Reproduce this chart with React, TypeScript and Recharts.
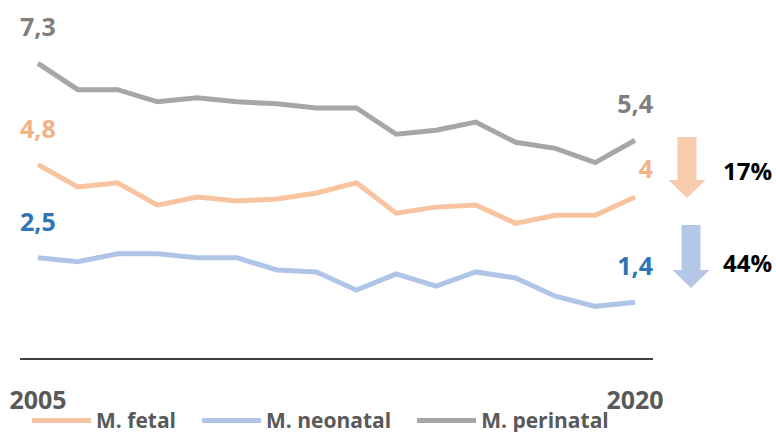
import React from 'react';
import { LineChart, Line, XAxis, YAxis, Legend, LabelList } from 'recharts';

const years = [2005, 2006, 2007, 2008, 2009, 2010, 2011, 2012, 2013, 2014, 2015, 2016, 2017, 2018, 2019, 2020];
const fetal = [4.8, 4.25, 4.35, 3.8, 4.0, 3.9, 3.95, 4.1, 4.35, 3.6, 3.75, 3.8, 3.35, 3.55, 3.55, 4.0];
const neonatal = [2.5, 2.4, 2.6, 2.6, 2.5, 2.5, 2.2, 2.15, 1.7, 2.1, 1.8, 2.15, 2.0, 1.55, 1.3, 1.4];
const perinatal = [7.3, 6.65, 6.65, 6.35, 6.45, 6.35, 6.3, 6.2, 6.2, 5.55, 5.65, 5.85, 5.35, 5.2, 4.85, 5.4];
const yearTicks = [2005, 2020];
const changes = [{ text: '17%', color: '#F8CBAD' }, { text: '44%', color: '#B4C7E7' }];

const data = years.map((year, i) => ({
  year,
  fetal: fetal[i],
  neonatal: neonatal[i],
  perinatal: perinatal[i],
}));

const FONT = '"Open Sans", sans-serif';
const LAST = years.length - 1;

const fmt = (v: number) => String(v).replace('.', ',');

// Value labels only at the first and last year of each series
const endLabels = (color: string, lastLift = 27) => (props: any) => {
  const { x, y, value, index } = props;
  if (index !== 0 && index !== LAST) return null;
  const first = index === 0;
  return (
    <text
      x={first ? x - 18 : x + 18}
      y={y - (first ? 27 : lastLift)}
      textAnchor={first ? 'start' : 'end'}
      fill={color}
      fontFamily={FONT}
      fontWeight={700}
      fontSize={25}
    >
      {fmt(value)}
    </text>
  );
};

const YearTick = (props: any) => {
  const { x, y, payload } = props;
  return (
    <text x={x} y={y + 50} textAnchor="middle" fill="#595959" fontFamily={FONT} fontWeight={700} fontSize={25}>
      {payload.value}
    </text>
  );
};

const LegendContent = (props: any) => {
  const { payload } = props;
  return (
    <div style={{ display: 'flex', alignItems: 'center', height: 30, fontFamily: FONT }}>
      {payload.map((p: any, i: number) => (
        <div key={i} style={{ display: 'flex', alignItems: 'center', marginRight: 26 }}>
          <div style={{ width: 59, height: 5, background: p.color, marginRight: 5 }} />
          <span style={{ color: '#595959', fontWeight: 700, fontSize: 21, lineHeight: '30px', whiteSpace: 'nowrap' }}>{p.value}</span>
        </div>
      ))}
    </div>
  );
};

const DownArrow = ({ x, top, headTop, tip, color }: any) => {
  const sx1 = x - 9.5;
  const sx2 = x + 9.5;
  const hx1 = x - 18.5;
  const hx2 = x + 18.5;
  const d = `M${sx1},${top} L${sx2},${top} L${sx2},${headTop} L${hx2},${headTop} L${x},${tip} L${hx1},${headTop} L${sx1},${headTop} Z`;
  return <path d={d} fill={color} />;
};

export default function App() {
  return (
    <div style={{ position: 'absolute', left: 0, top: 0, width: 776, height: 432, background: '#fff', overflow: 'hidden' }}>
      <LineChart width={776} height={432} data={data} margin={{ top: 35, right: 123, bottom: 13, left: 20 }}>
        <XAxis
          dataKey="year"
          type="number"
          domain={[2005, 2020]}
          ticks={yearTicks}
          padding={{ left: 18, right: 18 }}
          axisLine={{ stroke: '#000', strokeWidth: 1.5 }}
          tickLine={false}
          tickSize={0}
          tickMargin={0}
          tick={<YearTick />}
          interval={0}
        />
        <YAxis hide domain={[0, 8]} />
        <Legend
          verticalAlign="bottom"
          align="left"
          content={<LegendContent />}
          wrapperStyle={{ position: 'absolute', left: 32, top: 405, height: 30, width: 700 }}
        />
        <Line dataKey="fetal" name="M. fetal" stroke="#F8C4A0" strokeWidth={5} dot={false} isAnimationActive={false}>
          <LabelList dataKey="fetal" content={endLabels('#F4B183', 19)} />
        </Line>
        <Line dataKey="neonatal" name="M. neonatal" stroke="#B0C4E8" strokeWidth={5} dot={false} isAnimationActive={false}>
          <LabelList dataKey="neonatal" content={endLabels('#2E75B6')} />
        </Line>
        <Line dataKey="perinatal" name="M. perinatal" stroke="#A6A6A6" strokeWidth={5} dot={false} isAnimationActive={false}>
          <LabelList dataKey="perinatal" content={endLabels('#7F7F7F')} />
        </Line>
      </LineChart>
      <svg width={776} height={432} style={{ position: 'absolute', left: 0, top: 0, pointerEvents: 'none' }}>
        <DownArrow x={687} top={137} headTop={180} tip={198} color={changes[0].color} />
        <DownArrow x={691} top={225} headTop={270} tip={288} color={changes[1].color} />
        <text x={723} y={180} fill="#000" fontFamily={FONT} fontWeight={700} fontSize={24}>{changes[0].text}</text>
        <text x={723} y={272} fill="#000" fontFamily={FONT} fontWeight={700} fontSize={24}>{changes[1].text}</text>
      </svg>
    </div>
  );
}
